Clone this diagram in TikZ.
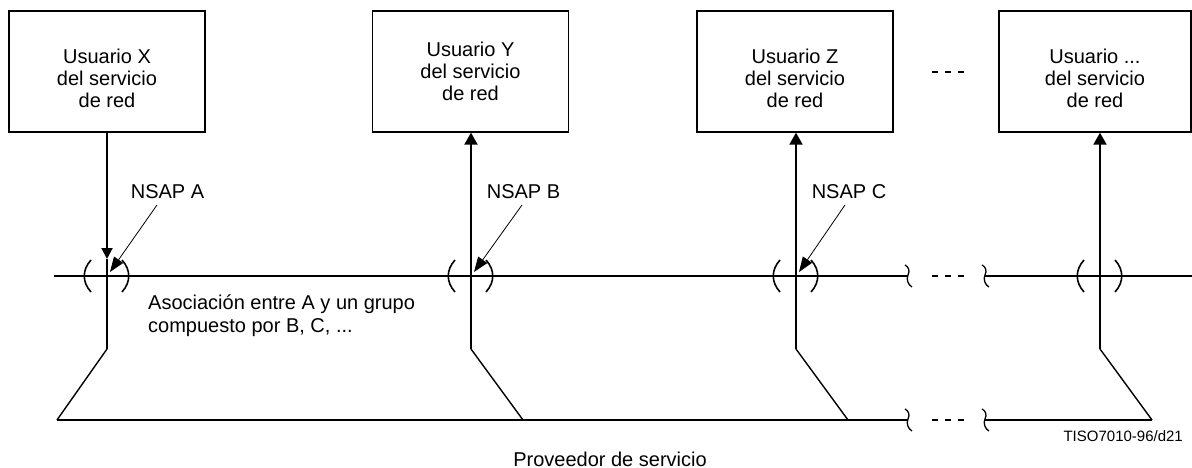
\documentclass[tikz,border=0pt]{standalone}
\usepackage{fontspec}
\setmainfont{Liberation Sans}
\usetikzlibrary{arrows.meta,calc}
\begin{document}
\begin{tikzpicture}[x=1pt,y=-1pt,
  userbox/.style={draw,line width=1.3pt,minimum width=196pt,minimum height=121pt,inner sep=0pt},
  boxtext/.style={align=center,font=\fontsize{20}{22}\selectfont,inner sep=0pt},
  lbl/.style={font=\fontsize{20}{23}\selectfont,inner sep=0pt},
  main/.style={line width=2pt},
  slant/.style={line width=1.4pt},
  nsap/.style={line width=0.8pt,-{Triangle[length=15pt,width=11pt]}},
  downar/.style={main,-{Triangle[length=11pt,width=11pt]}},
  upar/.style={main,{Triangle[length=12pt,width=13pt]}-},
  parenl/.style={line width=1.6pt},
  brk/.style={line width=1.3pt},
  dots/.style={line width=1.5pt,dash pattern=on 6pt off 7pt},
  squig/.pic={\draw[brk] (-3,-11) .. controls (1,-9) and (2,-5) .. (0,-1) .. controls (-2,3) and (0,9) .. (4,11);},
  parens/.pic={\draw[parenl] (-16,-16) .. controls (-25,-6) and (-25,6) .. (-16,16);
               \draw[parenl] (15,-16) .. controls (24,-6) and (24,6) .. (15,16);}
]
\useasboundingbox (0,0) rectangle (1192,468);

% user boxes
\node[userbox, label={[boxtext,yshift=-7pt]center:{Usuario X\\del servicio\\de red}}] (ux) at (107,71.5) {};
\node[userbox, label={[boxtext]center:{Usuario Y\\del servicio\\de red}}] (uy) at (470.5,71.5) {};
\node[userbox, label={[boxtext,yshift=-7pt]center:{Usuario Z\\del servicio\\de red}}] (uz) at (795,71.5) {};
\node[userbox, minimum width=192pt, label={[boxtext,yshift=-7pt]center:{Usuario ...\\del servicio\\de red}}] (uw) at (1095,71.5) {};

% crossing points and key coordinates
\coordinate (cx) at (107,276);
\coordinate (cy) at (471,276);
\coordinate (cz) at (796,276);
\coordinate (cw) at (1100,276);
\coordinate (xt) at (107,259);
\coordinate (xk) at (107,349);
\coordinate (yk) at (471,349);
\coordinate (zk) at (796,349);
\coordinate (wk) at (1100,349);
\coordinate (xb) at (57,420);
\coordinate (yb) at (523,420);
\coordinate (zb) at (848,420);
\coordinate (wb) at (1152,420);
\coordinate (hl) at (54,276);
\coordinate (hb1) at (908,276);
\coordinate (hb2) at (985,276);
\coordinate (hr) at (1192,276);
\coordinate (bb1) at (908,420);
\coordinate (bb2) at (985,420);

% horizontal service line and base line
\draw[main] (hl) -- (hb1);
\draw[main] (hb2) -- (hr);
\draw[main] (xb) -- (bb1);
\draw[main] (bb2) -- (wb);

% breaks
\pic at (hb1) {squig};
\pic at (hb2) {squig};
\pic at (bb1) {squig};
\pic at (bb2) {squig};
\draw[dots] (932,276) -- (964,276);
\draw[dots] (932,420) -- (964,420);
\draw[dots] (932,72) -- (964,72);

% verticals
\draw[downar] (cx |- ux.south) -- (xt);
\draw[main] (xt) -- (xk);
\draw[slant] (xk) -- (xb);

\draw[upar] (cy |- uy.south) -- (yk);
\draw[slant] (yk) -- (yb);

\draw[upar] (cz |- uz.south) -- (zk);
\draw[slant] (zk) -- (zb);

\draw[upar] (cw |- uw.south) -- (wk);
\draw[slant] (wk) -- (wb);

% parentheses at the access points
\pic at (cx) {parens};
\pic at (cy) {parens};
\pic at (cz) {parens};
\pic at (cw) {parens};

% NSAP labels
\node[lbl] (na) at (167.5,192) {NSAP A};
\node[lbl] (nb) at (523.5,192) {NSAP B};
\node[lbl] (nc) at (849,192) {NSAP C};
\coordinate (sa) at (157,205);
\coordinate (sb) at (522,205);
\coordinate (sc) at (845,205);
\coordinate (ta) at (110,272);
\coordinate (tb) at (474,272);
\coordinate (tc) at (799,272);
\draw[nsap] (sa) -- (ta);
\draw[nsap] (sb) -- (tb);
\draw[nsap] (sc) -- (tc);

% texts
\node[lbl,align=left,anchor=base west] (assoc) at (148,332) {Asociación entre A y un grupo\\compuesto por B, C, ...};
\node[lbl,anchor=base] (prov) at (610,466) {Proveedor de servicio};
\node[font=\fontsize{15}{17}\selectfont,inner sep=0pt,anchor=base east] (tiso) at (1183,441) {TISO7010-96/d21};
\end{tikzpicture}
\end{document}
